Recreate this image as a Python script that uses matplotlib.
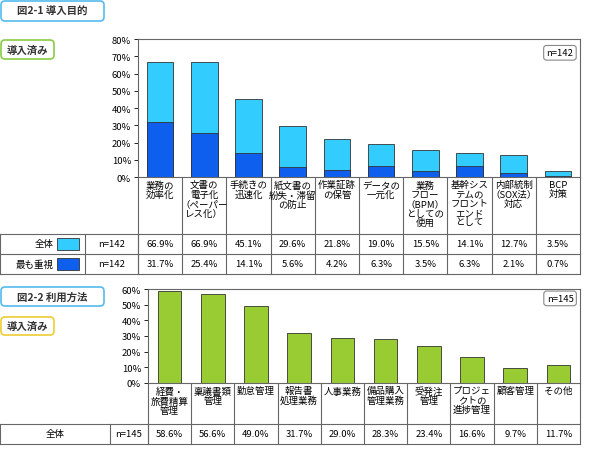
import matplotlib
matplotlib.use("Agg")
import matplotlib.pyplot as plt
from matplotlib.patches import FancyBboxPatch, Rectangle

plt.rcParams['font.family'] = ['Noto Sans CJK JP', 'DejaVu Sans']

cats1 = ["業務の\n効率化", "文書の\n電子化\n（ペーパー\nレス化）", "手続きの\n迅速化", "紙文書の\n紛失・滞留\nの防止",
         "作業証跡\nの保管", "データの\n一元化", "業務\nフロー\n（BPM）\nとしての\n使用", "基幹シス\nテムの\nフロント\nエンド\nとして",
         "内部統制\n（SOX法）\n対応", "BCP\n対策"]
all1 = [66.9, 66.9, 45.1, 29.6, 21.8, 19.0, 15.5, 14.1, 12.7, 3.5]
top1 = [31.7, 25.4, 14.1, 5.6, 4.2, 6.3, 3.5, 6.3, 2.1, 0.7]
cats2 = ["経費・\n旅費精算\n管理", "稟議書類\n管理", "勤怠管理", "報告書\n処理業務", "人事業務", "備品購入\n管理業務",
         "受発注\n管理", "プロジェ\nクトの\n進捗管理", "顧客管理", "その他"]
all2 = [58.6, 56.6, 49.0, 31.7, 29.0, 28.3, 23.4, 16.6, 9.7, 11.7]

W, H = 590, 452
fig = plt.figure(figsize=(W/100, H/100), dpi=100)
bg = fig.add_axes([0, 0, 1, 1])
bg.set_xlim(0, W); bg.set_ylim(H, 0); bg.axis('off')

LB, DB, GR = '#33CCFF', '#0F5FEF', '#99CC33'
fs = 6.8

def pax(x0, y0, x1, y1):
    return fig.add_axes([x0/W, 1-y1/H, (x1-x0)/W, (y1-y0)/H])

def hline(x0, x1, y, **k): bg.plot([x0, x1], [y, y], color='#666666', lw=0.8, **k)
def vline(x, y0, y1, **k): bg.plot([x, x], [y0, y1], color='#666666', lw=0.8, **k)

def box(x0, y0, x1, y1, text, ec):
    bg.add_patch(FancyBboxPatch((x0, y0), x1-x0, y1-y0, boxstyle='round,pad=0,rounding_size=4',
                                fc='white', ec=ec, lw=1.2))
    bg.text((x0+x1)/2, (y0+y1)/2, text, ha='center', va='center', fontsize=7.5, fontweight='bold', color='#333333')

box(1, 2, 104, 22, "図2-1 導入目的", '#55BBEE')
box(1, 41, 54, 60, "導入済み", '#88CC44')
box(1, 288, 104, 307, "図2-2 利用方法", '#55BBEE')
box(1, 318, 54, 336, "導入済み", '#EECC33')

def panel(x0, x1, ytop, ybot, ymax, step, cats, series, colors, bw, nlabel, ylab_bot, rows, labw, ncolx):
    ax = pax(x0, ytop, x1, ybot)
    n = len(cats)
    xs = range(n)
    for vals, c in zip(series, colors):
        ax.bar(xs, vals, width=bw, color=c, edgecolor='#333333', lw=0.6)
    ax.set_xlim(-0.5, n-0.5); ax.set_ylim(0, ymax)
    ax.set_yticks(range(0, ymax+1, step))
    ax.set_yticklabels([f"{v}%" for v in range(0, ymax+1, step)], fontsize=fs)
    ax.set_xticks([])
    ax.tick_params(axis='y', length=3, width=0.6, pad=2)
    for s in ax.spines.values(): s.set_color('#666666'); s.set_linewidth(0.8)
    ax.text(0.985, 0.9, nlabel, transform=ax.transAxes, ha='right', va='center', fontsize=fs,
            bbox=dict(boxstyle='round,pad=0.3', fc='white', ec='#888888', lw=0.8))
    slot = (x1-x0)/n
    # category label cells
    for i in range(n+1):
        vline(x0+i*slot, ybot, ylab_bot)
    for i, c in enumerate(cats):
        bg.text(x0+(i+0.5)*slot, ybot+3, c, ha='center', va='top', fontsize=fs, linespacing=1.05)
    # table rows
    y = ylab_bot
    hline(0, x1, y)
    for label, sw, nl, vals in rows:
        y2 = y + 20
        vline(0, y, y2); vline(ncolx, y, y2); vline(x0, y, y2)
        for i in range(n+1):
            vline(x0+i*slot, y, y2)
        if sw:
            bg.text(labw-26, (y+y2)/2, label, ha='right', va='center', fontsize=fs)
            bg.add_patch(Rectangle((labw-23, y+4), 22, y2-y-8, fc=sw, ec='#333333', lw=0.6))
        else:
            bg.text(ncolx/2, (y+y2)/2, label, ha='center', va='center', fontsize=fs)
        bg.text((ncolx+x0)/2, (y+y2)/2, nl, ha='center', va='center', fontsize=fs)
        for i, v in enumerate(vals):
            bg.text(x0+(i+0.5)*slot, (y+y2)/2, f"{v:.1f}%", ha='center', va='center', fontsize=fs)
        hline(0, x1, y2)
        y = y2

panel(138, 580, 40, 178, 80, 10, cats1, [all1, top1], [LB, DB], 0.6, "n=142", 235,
      [("全体", LB, "n=142", all1), ("最も重視", DB, "n=142", top1)], 80, 85)
panel(148, 580, 290, 384, 60, 10, cats2, [all2], [GR], 0.55, "n=145", 425,
      [("全体", None, "n=145", all2)], 110, 110)

fig.savefig("out.png", dpi=100)
